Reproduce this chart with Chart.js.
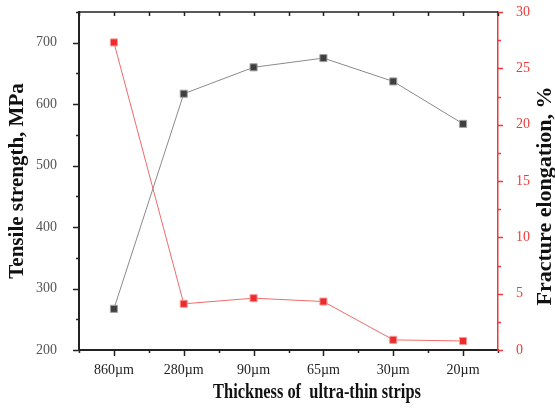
<!DOCTYPE html>
<html>
<head>
<meta charset="utf-8">
<script src="https://cdn.jsdelivr.net/npm/chart.js@4"></script>
<style>
  html, body { margin: 0; padding: 0; background: #fff; }
</style>
</head>
<body>
<canvas id="chart" width="555" height="410"></canvas>
<script>
const thickness = ['860µm', '280µm', '90µm', '65µm', '30µm', '20µm'];
const tensileStrength = [267, 617, 660, 675, 637, 568];
const fractureElongation = [27.3, 4.1, 4.6, 4.3, 0.9, 0.8];
const leftRange = [200, 750];
const rightRange = [0, 30];

const serif = '"Liberation Serif", "Times New Roman", serif';

// axis frame, tick marks (major + minor) and the two hand-placed titles
const framePlugin = {
  id: 'frame',
  afterDraw(chart) {
    const ctx = chart.ctx;
    const area = chart.chartArea;
    const x = chart.scales.x, y = chart.scales.y, y1 = chart.scales.y1;
    ctx.save();

    // top frame line
    ctx.strokeStyle = '#222';
    ctx.lineWidth = 1.5;
    ctx.beginPath();
    ctx.moveTo(area.left, area.top);
    ctx.lineTo(area.right, area.top);
    ctx.stroke();

    // x ticks: majors at categories, minors at boundaries
    for (let i = -0.5; i <= thickness.length - 0.5; i += 0.5) {
      const px = Math.round(x.getPixelForValue(i)) + 0.5;
      const major = Number.isInteger(i);
      ctx.beginPath();
      ctx.moveTo(px, area.bottom);
      ctx.lineTo(px, area.bottom + (major ? 6 : 3));
      ctx.moveTo(px, area.top);
      ctx.lineTo(px, area.top + 4);
      ctx.stroke();
    }

    // left ticks
    for (let v = leftRange[0]; v <= leftRange[1]; v += 50) {
      const py = Math.round(y.getPixelForValue(v)) + 0.5;
      ctx.beginPath();
      ctx.moveTo(area.left, py);
      ctx.lineTo(area.left - (v % 100 === 0 ? 6 : 3), py);
      ctx.stroke();
    }

    // right ticks (red)
    ctx.strokeStyle = '#f03a3a';
    for (let v = rightRange[0]; v <= rightRange[1]; v += 2.5) {
      const py = Math.round(y1.getPixelForValue(v)) + 0.5;
      ctx.beginPath();
      ctx.moveTo(area.right, py);
      ctx.lineTo(area.right + (v % 5 === 0 ? 5 : 3), py);
      ctx.stroke();
    }

    // right title, reading bottom to top
    ctx.fillStyle = '#111';
    ctx.textAlign = 'center';
    ctx.textBaseline = 'alphabetic';
    ctx.save();
    ctx.translate(551, 196);
    ctx.rotate(-Math.PI / 2);
    ctx.font = 'bold 22px ' + serif;
    ctx.fillText('Fracture elongation, %', 0, 0);
    ctx.restore();

    // bottom title (narrow, as in the figure)
    ctx.save();
    ctx.translate(317, 398);
    ctx.scale(0.82, 1);
    ctx.font = 'bold 20px ' + serif;
    ctx.fillText('Thickness of  ultra-thin strips', 0, 0);
    ctx.restore();

    ctx.restore();
  }
};

function fixVertical(width) {
  return function (scale) {
    scale.width = width;
    scale.paddingTop = 0;
    scale.paddingBottom = 0;
  };
}

new Chart(document.getElementById('chart'), {
  type: 'line',
  data: {
    labels: thickness,
    datasets: [{
      data: tensileStrength,
      yAxisID: 'y',
      borderColor: '#8a8a8a',
      borderWidth: 1,
      pointStyle: 'rect',
      pointRadius: 5,
      pointBackgroundColor: '#3f3f3f',
      pointBorderColor: '#a0a0a0',
      pointBorderWidth: 1,
      tension: 0
    }, {
      data: fractureElongation,
      yAxisID: 'y1',
      borderColor: '#f06a6a',
      borderWidth: 1,
      pointStyle: 'rect',
      pointRadius: 5,
      pointBackgroundColor: '#ee2b2b',
      pointBorderColor: '#f79a9a',
      pointBorderWidth: 1,
      tension: 0
    }]
  },
  options: {
    responsive: false,
    devicePixelRatio: 1,
    animation: false,
    layout: { padding: { top: 12 } },
    plugins: {
      legend: { display: false },
      tooltip: { enabled: false }
    },
    scales: {
      x: {
        type: 'category',
        offset: true,
        grid: { display: false },
        border: { width: 2, color: '#222' },
        ticks: {
          font: { family: serif, size: 14 },
          color: '#222',
          padding: 4,
          maxRotation: 0
        },
        afterFit(scale) {
          scale.height = 60;
          scale.paddingLeft = 0;
          scale.paddingRight = 0;
        }
      },
      y: {
        position: 'left',
        min: leftRange[0],
        max: leftRange[1],
        grid: { display: false },
        border: { width: 2, color: '#222' },
        ticks: {
          stepSize: 100,
          includeBounds: false,
          font: { family: serif, size: 14 },
          color: '#555',
          padding: 14
        },
        title: {
          display: true,
          text: 'Tensile strength, MPa',
          font: { family: serif, size: 21, weight: 'bold' },
          color: '#111',
          padding: { top: 5, bottom: 0 }
        },
        afterFit: fixVertical(79)
      },
      y1: {
        position: 'right',
        min: rightRange[0],
        max: rightRange[1],
        grid: { display: false },
        border: { width: 1.5, color: '#f03a3a' },
        ticks: {
          stepSize: 5,
          font: { family: serif, size: 14 },
          color: '#ee3a3a',
          padding: 10
        },
        afterFit: fixVertical(57)
      }
    }
  },
  plugins: [framePlugin]
});
</script>
</body>
</html>
